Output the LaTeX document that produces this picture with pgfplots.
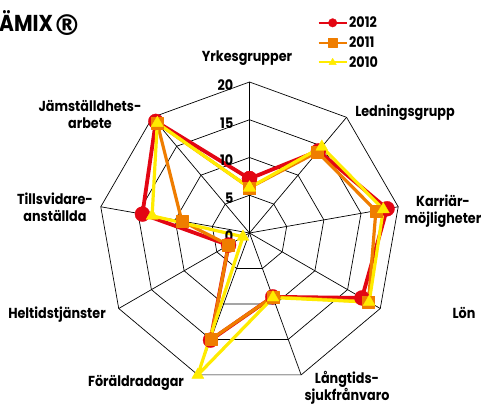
\documentclass[border=0pt]{standalone}
\usepackage{fontspec}
\setmainfont{Poppins}[FakeStretch=0.88]
\newfontfamily\dv{DejaVu Sans}
\usepackage{graphicx}
\usepackage{pgfplots}
\pgfplotsset{compat=1.18}
\usepgfplotslibrary{polar}
\definecolor{cred}{RGB}{227,6,19}
\definecolor{corange}{RGB}{239,125,0}
\definecolor{cyellow}{RGB}{255,235,0}
\begin{document}
\begin{tikzpicture}
\useasboundingbox (0,0) rectangle (482pt,405pt);
\tikzset{lab/.style={font=\bfseries\fontsize{14.5}{17}\selectfont, align=center, inner sep=0pt}}
\begin{polaraxis}[
  at={(249.5pt,172pt)}, anchor=center,
  scale only axis, width=302pt, height=302pt,
  xmin=0, xmax=360, ymin=0, ymax=20,
  hide axis, clip=false,
  legend style={draw=none, fill=none, at={(0.725,1.222)}, anchor=north west,
    font=\bfseries\fontsize{14.5}{17}\selectfont, row sep=4.5pt, inner sep=0pt,
    nodes={inner sep=1.5pt}},
  legend cell align=left,
  legend image code/.code={
    \draw[line width=2pt] (0pt,0pt) -- (28pt,0pt);
    \draw[mark size=4.3pt, line width=0.3pt] plot coordinates {(14pt,0pt)};
  },
]
% grid rings
\addplot[forget plot, black, line width=0.7pt] coordinates {(90,5)(50,5)(10,5)(-30,5)(-70,5)(-110,5)(-150,5)(-190,5)(-230,5)(90,5)};
\addplot[forget plot, black, line width=0.7pt] coordinates {(90,10)(50,10)(10,10)(-30,10)(-70,10)(-110,10)(-150,10)(-190,10)(-230,10)(90,10)};
\addplot[forget plot, black, line width=0.7pt] coordinates {(90,15)(50,15)(10,15)(-30,15)(-70,15)(-110,15)(-150,15)(-190,15)(-230,15)(90,15)};
\addplot[forget plot, black, line width=0.7pt] coordinates {(90,20)(50,20)(10,20)(-30,20)(-70,20)(-110,20)(-150,20)(-190,20)(-230,20)(90,20)};
% spokes
\addplot[forget plot, black, line width=0.7pt] coordinates {(90,0)(90,20)};
\addplot[forget plot, black, line width=0.7pt] coordinates {(50,0)(50,20)};
\addplot[forget plot, black, line width=0.7pt] coordinates {(10,0)(10,20)};
\addplot[forget plot, black, line width=0.7pt] coordinates {(-30,0)(-30,20)};
\addplot[forget plot, black, line width=0.7pt] coordinates {(-70,0)(-70,20)};
\addplot[forget plot, black, line width=0.7pt] coordinates {(-110,0)(-110,20)};
\addplot[forget plot, black, line width=0.7pt] coordinates {(-150,0)(-150,20)};
\addplot[forget plot, black, line width=0.7pt] coordinates {(-190,0)(-190,20)};
\addplot[forget plot, black, line width=0.7pt] coordinates {(-230,0)(-230,20)};
% 2012
\addplot[cred, line width=3.8pt, line join=round, mark=*, mark size=7.5pt,
  mark options={line width=0.3pt, fill=cred, draw=cred}]
  coordinates {(90,7.2)(50,14.2)(10,18.5)(-30,17.2)(-70,9.0)(-110,15.1)(-150,3.2)(-190,14.4)(-230,19.3)(90,7.2)};
\addlegendentry{2012}
% 2011
\addplot[corange, line width=3.2pt, line join=round, mark=square*, mark size=6pt,
  mark options={line width=0.3pt, fill=corange, draw=corange}]
  coordinates {(90,6.0)(50,14.0)(10,17.0)(-30,18.2)(-70,9.0)(-110,15.0)(-150,3.2)(-190,9.1)(-230,19.0)(90,6.0)};
\addlegendentry{2011}
% 2010
\addplot[cyellow, line width=3.2pt, line join=round, mark=triangle*, mark size=7pt,
  mark options={line width=0.3pt, fill=cyellow, draw=cyellow}]
  coordinates {(90,6.0)(50,14.9)(10,18.0)(-30,18.3)(-70,9.1)(-110,20.0)(-150,1.0)(-190,13.1)(-230,19.0)(90,6.0)};
\addlegendentry{2010}
% radial tick labels
\node[lab, anchor=east, xshift=-16pt, yshift=-3pt] at (axis cs:90,20) {20};
\node[lab, anchor=east, xshift=-16pt, yshift=-3pt] at (axis cs:90,15) {15};
\node[lab, anchor=east, xshift=-16pt, yshift=-3pt] at (axis cs:90,10) {10};
\node[lab, anchor=east, xshift=-16pt, yshift=-3pt] at (axis cs:90,5) {5};
\node[lab, anchor=east, xshift=-16pt, yshift=-3pt] at (axis cs:90,0) {0};
\end{polaraxis}
% title (J cut off at the left edge, as in the original)
\node[anchor=base west, inner sep=0pt, font=\bfseries\fontsize{23}{26}\selectfont] at (-1pt,373.5pt) {\llap{J}ÄMIX\kern-0.5pt\raisebox{-4pt}{\scalebox{1.25}{\dv\bfseries ®}}};
% category labels
\node[lab] at (247pt,347pt) {Yrkesgrupper};
\node[lab] at (405pt,292pt) {Ledningsgrupp};
\node[lab] at (443pt,194pt) {Karriär-\\möjligheter};
\node[lab] at (464pt,92pt) {Lön};
\node[lab] at (347pt,17pt) {Långtids-\\sjukfrånvaro};
\node[lab] at (136pt,22pt) {Föräldradagar};
\node[lab] at (57pt,90pt) {Heltidstjänster};
\node[lab] at (55pt,198pt) {Tillsvidare-\\anställda};
\node[lab] at (90pt,291pt) {Jämställdhets-\\arbete};
\end{tikzpicture}
\end{document}
